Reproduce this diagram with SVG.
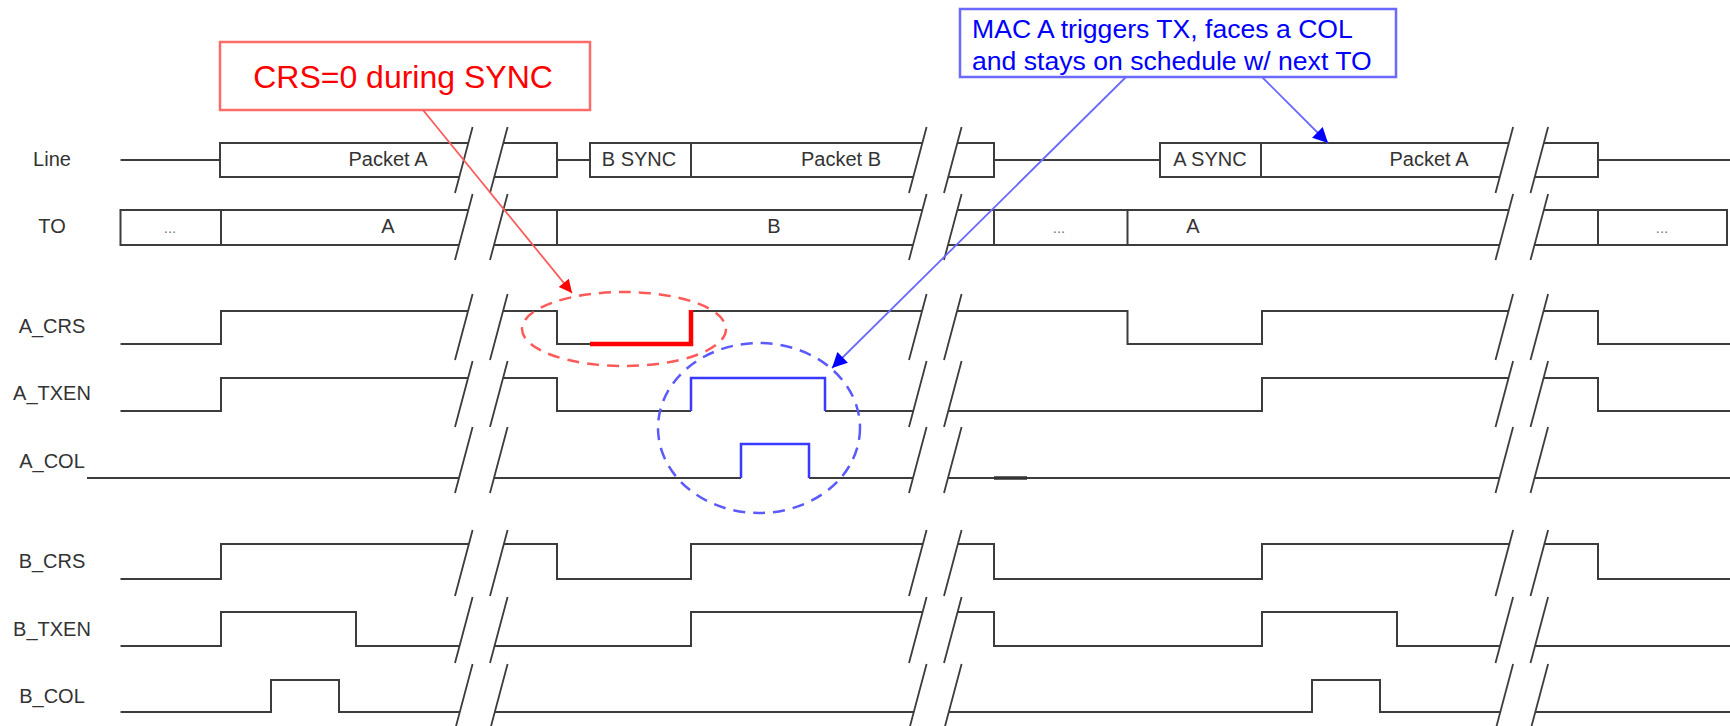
<svg xmlns="http://www.w3.org/2000/svg" xmlns:xlink="http://www.w3.org/1999/xlink" width="1730" height="726" viewBox="0 0 1730 726">
<style>
.sig{fill:none;stroke:#3c3c3c;stroke-width:2;stroke-linejoin:miter}
.box{fill:#fff;stroke:#3c3c3c;stroke-width:2}
.lbl{font-family:"Liberation Sans",Arial,sans-serif;font-size:20px;fill:#333;text-anchor:middle}
.txt{font-family:"Liberation Sans",Arial,sans-serif;font-size:20px;fill:#333;text-anchor:middle}
.dots{font-family:"Liberation Sans",Arial,sans-serif;font-size:15px;fill:#777;text-anchor:middle}
.slash{stroke:#3c3c3c;stroke-width:1.8}
.blue{fill:none;stroke:#3a3aff;stroke-width:2.5}
.note{font-family:"Liberation Sans",Arial,sans-serif}
</style>
<defs>
<g id="brk">
<polygon points="0,0 17.6,-66 52.6,-66 35,0" fill="#fff"/>
<line class="slash" x1="0" y1="0" x2="17.6" y2="-66"/>
<line class="slash" x1="35" y1="0" x2="52.6" y2="-66"/>
</g>
<marker id="ahR" viewBox="0 0 10 10" refX="10" refY="5" markerUnits="userSpaceOnUse" markerWidth="18" markerHeight="13" orient="auto"><path d="M0,0 L10,5 L0,10 z" fill="#ff0000"/></marker>
<marker id="ahB" viewBox="0 0 10 10" refX="10" refY="5" markerUnits="userSpaceOnUse" markerWidth="22" markerHeight="15" orient="auto"><path d="M0,0 L10,5 L0,10 z" fill="#0000ff"/></marker>
</defs>
<rect width="1730" height="726" fill="#fff"/>

<g id="labels">
<text class="lbl" x="52" y="166">Line</text>
<text class="lbl" x="52" y="233">TO</text>
<text class="lbl" x="52" y="333">A_CRS</text>
<text class="lbl" x="52" y="400">A_TXEN</text>
<text class="lbl" x="52" y="468">A_COL</text>
<text class="lbl" x="52" y="568">B_CRS</text>
<text class="lbl" x="52" y="636">B_TXEN</text>
<text class="lbl" x="52" y="703">B_COL</text>
</g>

<g id="row-line">
<path class="sig" d="M120.5,160H220M557,160H590M994,160H1160M1598,160H1730"/>
<rect class="box" x="220" y="143" width="337" height="34"/>
<text class="txt" x="388" y="166">Packet A</text>
<rect class="box" x="590" y="143" width="404" height="34"/>
<line class="sig" x1="691" y1="143" x2="691" y2="177"/>
<text class="txt" x="639" y="166">B SYNC</text>
<text class="txt" x="841" y="166">Packet B</text>
<rect class="box" x="1160" y="143" width="438" height="34"/>
<line class="sig" x1="1261" y1="143" x2="1261" y2="177"/>
<text class="txt" x="1210" y="166">A SYNC</text>
<text class="txt" x="1429" y="166">Packet A</text>
</g>

<g id="row-to">
<rect class="box" x="120.5" y="210" width="1606.5" height="35"/>
<path class="sig" d="M221,210V245M557,210V245M994,210V245M1127.5,210V245M1598,210V245"/>
<text class="dots" x="170" y="233">...</text>
<text class="txt" x="388" y="233">A</text>
<text class="txt" x="774" y="233">B</text>
<text class="dots" x="1059" y="233">...</text>
<text class="txt" x="1193" y="233">A</text>
<text class="dots" x="1662" y="233">...</text>
</g>

<g id="row-a-crs">
<polyline class="sig" points="120.5,344 221,344 221,311 557,311 557,344 691,344 691,311 1127.5,311 1127.5,344 1262,344 1262,311 1598,311 1598,344 1730,344"/>
</g>
<g id="row-a-txen">
<polyline class="sig" points="120.5,411 221,411 221,378 557,378 557,411 691,411"/>
<polyline class="sig" points="825,411 1262,411 1262,378 1598,378 1598,411 1730,411"/>
</g>
<g id="row-a-col">
<polyline class="sig" points="87,478 741,478"/>
<polyline class="sig" points="809,478 1730,478"/>
<line x1="994" y1="478" x2="1027" y2="478" stroke="#333" stroke-width="3.5"/>
</g>
<g id="row-b-crs">
<polyline class="sig" points="120.5,579 221,579 221,544 557,544 557,579 691,579 691,544 994,544 994,579 1262,579 1262,544 1598,544 1598,579 1730,579"/>
</g>
<g id="row-b-txen">
<polyline class="sig" points="120.5,646 221,646 221,612 356,612 356,646 691,646 691,612 994,612 994,646 1262,646 1262,612 1397,612 1397,646 1730,646"/>
</g>
<g id="row-b-col">
<polyline class="sig" points="120.5,712 271,712 271,680 339,680 339,712 1312,712 1312,680 1380,680 1380,712 1730,712"/>
</g>

<g id="breaks">
<use href="#brk" transform="translate(455,193)"/>
<use href="#brk" transform="translate(455,260)"/>
<use href="#brk" transform="translate(455,360)"/>
<use href="#brk" transform="translate(455,427)"/>
<use href="#brk" transform="translate(455,493)"/>
<use href="#brk" transform="translate(455,596)"/>
<use href="#brk" transform="translate(455,663)"/>
<use href="#brk" transform="translate(455,730)"/>
<use href="#brk" transform="translate(909,193)"/>
<use href="#brk" transform="translate(909,260)"/>
<use href="#brk" transform="translate(909,360)"/>
<use href="#brk" transform="translate(909,427)"/>
<use href="#brk" transform="translate(909,493)"/>
<use href="#brk" transform="translate(909,596)"/>
<use href="#brk" transform="translate(909,663)"/>
<use href="#brk" transform="translate(909,730)"/>
<use href="#brk" transform="translate(1495.5,193)"/>
<use href="#brk" transform="translate(1495.5,260)"/>
<use href="#brk" transform="translate(1495.5,360)"/>
<use href="#brk" transform="translate(1495.5,427)"/>
<use href="#brk" transform="translate(1495.5,493)"/>
<use href="#brk" transform="translate(1495.5,596)"/>
<use href="#brk" transform="translate(1495.5,663)"/>
<use href="#brk" transform="translate(1495.5,730)"/>
</g>

<g id="highlight-red">
<polyline points="590,344 691,344 691,310" fill="none" stroke="#ff0000" stroke-width="4.5"/>
<ellipse cx="624" cy="329" rx="102" ry="37" fill="none" stroke="#ff5a5a" stroke-width="2.5" stroke-dasharray="12,8"/>
</g>
<g id="highlight-blue">
<polyline class="blue" points="691,411 691,378 825,378 825,411"/>
<polyline class="blue" points="741,478 741,444 809,444 809,478"/>
<ellipse cx="759" cy="428" rx="101" ry="85" fill="none" stroke="#5a5aff" stroke-width="2.5" stroke-dasharray="12,8"/>
</g>

<g id="note-red">
<rect x="220" y="42" width="370" height="68" fill="#fff" stroke="#ff6b6b" stroke-width="2.5"/>
<text class="note" x="403" y="88" font-size="32" fill="#ff0000" text-anchor="middle">CRS=0 during SYNC</text>
</g>
<g id="note-blue">
<rect x="960" y="9" width="436" height="68" fill="#fff" stroke="#6a6aff" stroke-width="2.5"/>
<text class="note" x="972" y="38" font-size="26.6" fill="#0000ff">MAC A triggers TX, faces a COL</text>
<text class="note" x="972" y="70" font-size="26.6" fill="#0000ff">and stays on schedule w/ next TO</text>
</g>

<g id="connectors">
<line x1="423" y1="110" x2="572" y2="293" stroke="#ff5a5a" stroke-width="1.8" marker-end="url(#ahR)"/>
<line x1="1126" y1="77" x2="832" y2="368" stroke="#6a6aff" stroke-width="1.8" marker-end="url(#ahB)"/>
<line x1="1262" y1="77" x2="1328" y2="143" stroke="#6a6aff" stroke-width="1.8" marker-end="url(#ahB)"/>
</g>
</svg>
